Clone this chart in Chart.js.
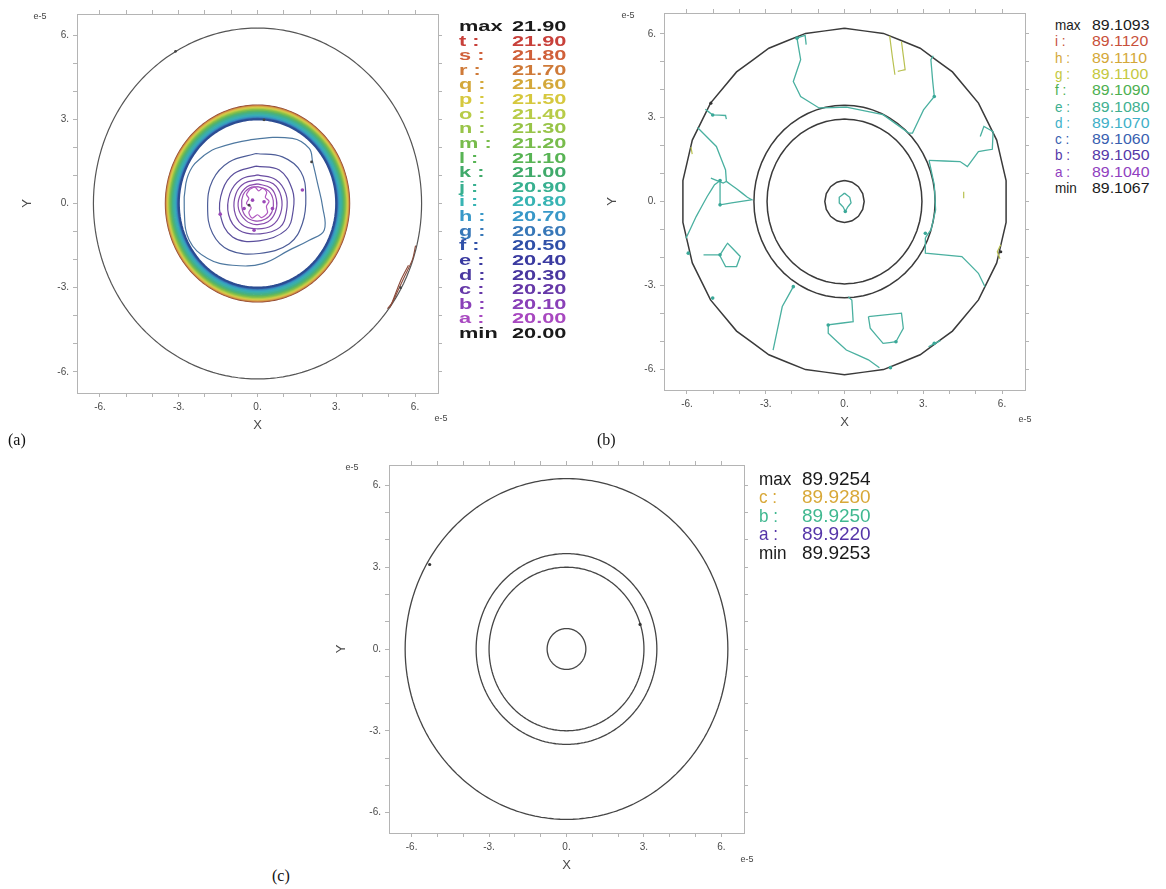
<!DOCTYPE html>
<html><head><meta charset="utf-8">
<script src="https://cdn.jsdelivr.net/npm/chart.js@4.4.1/dist/chart.umd.min.js"></script>
<style>
body{margin:0;background:#fff;}
#page{position:relative;width:1166px;height:889px;overflow:hidden;background:#fff;font-family:'Liberation Sans',Arial,sans-serif;}
.cv{position:absolute;}
.t{position:absolute;white-space:nowrap;line-height:1;transform-origin:0 50%;}
.lbl{position:absolute;font-family:'Liberation Serif','Times New Roman',serif;font-size:16px;color:#111;line-height:1;}
</style></head>
<body><div id="page"></div>
<script>
// ---------------- data ----------------
const tickValues = [-6,-5,-4,-3,-2,-1,0,1,2,3,4,5,6];
const tickLabelValues = [-6,-3,0,3,6];

// panel (a)
const legendA_keys = ['max','t :','s :','r :','q :','p :','o :','n :','m :','l :','k :','j :','i :','h :','g :','f :','e :','d :','c :','b :','a :','min'];
const legendA_values = ['21.90','21.90','21.80','21.70','21.60','21.50','21.40','21.30','21.20','21.10','21.00','20.90','20.80','20.70','20.60','20.50','20.40','20.30','20.20','20.10','20.00','20.00'];
const ringsA = [6.25];
const bandA_levels = ['f','g','h','i','j','k','l','m','n','o','p','q','r','s','t'];
const bandA_radii = [3.00,3.03,3.07,3.12,3.17,3.22,3.27,3.31,3.34,3.37,3.40,3.43,3.45,3.47,3.49];
const contourA_outer = [[-2.03,1.72],[-1.59,1.96],[-0.32,2.26],[1.33,2.32],[1.97,1.96],[2.10,1.48],[2.29,0.71],[2.48,-0.12],[2.54,-0.95],[1.97,-1.31],[1.21,-1.66],[0.19,-2.14],[-0.95,-2.20],[-1.90,-1.96],[-2.60,-1.31],[-2.79,-0.24],[-2.73,0.71],[-2.48,1.31],[-2.03,1.72]];
const contourA_e = [[-0.06,1.78],[0.95,1.66],[1.65,1.13],[1.84,0.24],[1.71,-0.71],[1.21,-1.43],[0.06,-1.78],[-1.08,-1.66],[-1.71,-1.07],[-1.90,-0.12],[-1.71,0.83],[-1.08,1.48],[-0.06,1.78]];
const contourA_d = [[-0.06,1.33],[0.83,1.19],[1.33,0.48],[1.36,-0.24],[1.08,-0.95],[0.06,-1.33],[-0.95,-1.19],[-1.42,-0.38],[-1.33,0.48],[-0.89,1.07],[-0.06,1.33]];
const contourA_c = [[0,1.02],[0.7,0.85],[1.08,0.35],[1.1,-0.3],[0.85,-0.85],[0.1,-1.08],[-0.7,-0.95],[-1.1,-0.4],[-1.05,0.35],[-0.65,0.85],[0,1.02]];
const contourA_b = [[0.05,0.85],[0.6,0.7],[0.9,0.25],[0.88,-0.35],[0.55,-0.78],[-0.05,-0.9],[-0.6,-0.75],[-0.88,-0.25],[-0.82,0.35],[-0.5,0.72],[0.05,0.85]];
const contourA_b2 = [[0,0.7],[0.5,0.55],[0.72,0.15],[0.68,-0.3],[0.4,-0.65],[-0.05,-0.75],[-0.45,-0.6],[-0.72,-0.2],[-0.68,0.25],[-0.4,0.6],[0,0.7]];
const contourA_b3 = [[0,0.6],[0.42,0.45],[0.6,0.1],[0.55,-0.3],[0.3,-0.55],[-0.1,-0.62],[-0.45,-0.45],[-0.6,-0.1],[-0.55,0.3],[-0.3,0.55],[0,0.6]];
const contourA_a = [[-0.3,0.5],[-0.1,0.58],[0.05,0.45],[0.2,0.55],[0.35,0.4],[0.3,0.22],[0.44,0.08],[0.34,-0.1],[0.38,-0.33],[0.15,-0.5],[0.0,-0.4],[-0.2,-0.52],[-0.33,-0.33],[-0.24,-0.15],[-0.42,0.0],[-0.33,0.18],[-0.42,0.32],[-0.3,0.5]];
const edgeA_1 = [[6.02,-1.5],[5.9,-2.0],[5.6,-2.6],[5.35,-3.1],[5.15,-3.5],[4.95,-3.75]];
const edgeA_2 = [[5.75,-2.2],[5.45,-2.75],[5.2,-3.35],[5.05,-3.7]];
const marksA_purple = [[-0.19,0.12],[0.25,0.06],[-0.51,-0.18],[0.57,-0.18],[-0.13,-0.95],[1.71,0.48],[-1.42,-0.38]];
const marksA_dark = [[-0.32,-0.06],[-3.12,5.42],[0.25,2.98],[2.06,1.48],[5.45,-3.0]];

// panel (b)
const legendB_keys = ['max','i :','h :','g :','f :','e :','d :','c :','b :','a :','min'];
const legendB_values = ['89.1093','89.1120','89.1110','89.1100','89.1090','89.1080','89.1070','89.1060','89.1050','89.1040','89.1067'];
const ringsB = [6.2, 3.45, 2.95, 0.75];
const tealB = [
  [[-1.81,5.85],[-1.67,5.08],[-1.95,4.30],[-1.67,3.76],[-0.97,3.35],[0.07,3.38],[1.47,3.11],[2.45,2.45],[2.59,2.45],[3.01,3.28],[3.42,3.76],[3.36,4.30],[3.29,5.08],[3.38,5.22]],
  [[-1.81,5.85],[-1.5,5.95],[-1.46,5.62]],
  [[3.22,1.47],[3.42,0.6],[3.47,-0.3],[3.3,-1.0],[3.08,-1.3]],
  [[3.22,1.47],[4.40,1.43],[4.68,1.25],[5.10,1.79],[5.63,1.87],[5.66,2.5],[5.31,2.69],[5.17,2.33]],
  [[3.08,-1.3],[3.08,-1.85],[4.47,-1.97],[5.10,-2.57],[5.35,-3.05]],
  [[-5.6,2.65],[-4.88,1.97],[-4.53,1.13],[-4.50,0.72],[-4.62,0.66],[-5.09,0.84]],
  [[-4.5,0.72],[-4.1,0.45],[-3.7,0.15],[-3.5,0.05]],
  [[-4.74,0.75],[-4.74,-0.12],[-4.3,-0.05],[-3.55,0.06]],
  [[-6.04,-1.32],[-5.65,-0.54],[-5.23,0.18],[-4.95,0.60],[-4.74,0.75]],
  [[-5.37,-1.91],[-4.74,-1.91],[-4.46,-1.49],[-3.97,-1.97],[-4.11,-2.33],[-4.53,-2.33],[-4.74,-1.95]],
  [[-5.3,3.3],[-5.02,3.10],[-4.53,3.08],[-4.5,2.95]],
  [[-1.95,-3.05],[-2.37,-3.76],[-2.72,-5.32]],
  [[0.145,-3.41],[0.28,-3.53],[0.33,-4.30],[-0.62,-4.42],[-0.62,-4.72],[0.07,-5.32],[0.91,-5.67],[1.33,-5.95]],
  [[0.91,-4.12],[2.17,-4.00],[2.24,-4.54],[1.96,-5.02],[1.47,-5.08],[0.98,-4.54],[0.91,-4.12]],
  [[3.2,-5.2],[3.65,-4.98]],
  [[0,0.3],[0.2,0.15],[0.25,-0.05],[0.12,-0.2],[0.03,-0.36],[-0.05,-0.2],[-0.2,-0.05],[-0.2,0.15],[0,0.3]]
];
const yellowB = [
  [[1.72,5.93],[1.82,5.20],[1.92,4.54]],
  [[2.17,5.73],[2.31,4.72],[2.03,4.66]],
  [[4.54,0.35],[4.54,0.12]],
  [[-5.85,1.95],[-5.8,1.7]],
  [[5.95,-1.55],[5.82,-1.8],[5.92,-2.05]]
];
const marksB_teal = [[-1.81,5.85],[3.42,3.76],[-4.74,0.75],[-4.74,-0.12],[-4.74,-1.91],[-5.02,3.10],[-5.95,-1.85],[-5.02,-3.46],[-1.95,-3.05],[-0.62,-4.42],[1.96,-5.02],[3.42,-5.08],[1.75,-5.95],[0.03,-0.36],[3.08,-1.14]];
const marksB_dark = [[-5.09,3.52],[5.95,-1.8]];

// panel (c)
const legendC_keys = ['max','c :','b :','a :','min'];
const legendC_values = ['89.9254','89.9280','89.9250','89.9220','89.9253'];
const ringsC = [6.25, 3.5, 3.0, 0.75];
const marksC_dark = [[-5.3,3.1],[2.85,0.9]];

// ---------------- styles ----------------
const FONT = "'Liberation Sans', Arial, sans-serif";
const legendA_colors = ['#1a1a1a','#c8403a','#d0603a','#cf7a38','#d4a83a','#d6c83e','#b8cc48','#98c448','#78bc4c','#58b454','#40aa6a','#38b090','#38b4b4','#3898c8','#3878b8','#3050a8','#3a3aa0','#4a38a0','#6638a8','#8a40b8','#a848c0','#1a1a1a'];
const bandA_colors = ['#2c4c92','#3570b4','#3894c0','#38aab8','#3cb0a4','#44b088','#58b468','#78bc50','#98c448','#b8cc48','#d6c84a','#d8b048','#d09046','#b86a3e','#8e4a34'];
const legendB_colors = ['#1a1a1a','#c8503a','#d4a838','#c4c840','#4caf50','#40b090','#40b0c8','#3860b0','#5538a8','#9040c0','#1a1a1a'];
const legendC_colors = ['#1a1a1a','#d8a838','#40b890','#5535a8','#1a1a1a'];

const page = document.getElementById('page');
const toXY = a => a.map(p => ({x:p[0], y:p[1]}));
function ringPoints(r, n){ const pts=[]; for(let i=0;i<=n;i++){const t=Math.PI/2+2*Math.PI*i/n; pts.push({x:r*Math.cos(t), y:r*Math.sin(t)});} return pts; }
// a tiny non-zero tension keeps Chart.js off its x-monotonic "fast path"
function lineDs(data, color, width, tension){ return {data, showLine:true, borderColor:color, borderWidth:width, pointRadius:0, tension:tension||0.0001, fill:false}; }
function ptDs(arr, color, r){ return {data:toXY(arr), showLine:false, pointRadius:r, pointBackgroundColor:color, pointBorderWidth:0}; }

function addText(txt, x, yc, size, color, weight, sx){
  const d=document.createElement('div'); d.className='t'; d.textContent=txt;
  d.style.left=x+'px'; d.style.top=yc+'px'; d.style.fontSize=size+'px'; d.style.color=color; d.style.fontWeight=weight;
  d.style.transform='translateY(-50%) scaleX('+sx+')';
  page.appendChild(d);
}
function addLabel(txt, x, yc){ const d=document.createElement('div'); d.className='lbl'; d.textContent=txt; d.style.left=x+'px'; d.style.top=(yc-8)+'px'; page.appendChild(d); }
function addE5(x, yc){ const d=document.createElement('div'); d.className='t'; d.textContent='e-5'; d.style.left=x+'px'; d.style.top=yc+'px'; d.style.fontSize='9px'; d.style.color='#444'; d.style.transform='translate(-50%,-50%)'; page.appendChild(d); }

function axes(yW, yTitlePad){
  const common = {
    type:'linear',
    afterBuildTicks: s => { s.ticks = tickValues.map(v => ({value:v})); },
    grid:{drawOnChartArea:false, drawTicks:true, tickLength:4, color:'#b4b4b4', tickColor:'#b4b4b4'},
    border:{display:true, color:'#b4b4b4', width:1}
  };
  const lab = {autoSkip:false, maxRotation:0, minRotation:0, color:'#4a4a4a', font:{family:FONT, size:10},
    callback: v => tickLabelValues.includes(v) ? v + '.' : ''};
  return {
    x: Object.assign({}, common, {position:'bottom', min:-6.875, max:6.875, afterFit: s => { s.height = 40; },
      ticks:Object.assign({padding:4}, lab),
      title:{display:true, text:'X', color:'#4a4a4a', font:{family:FONT, size:13}, padding:{top:0,bottom:0}}}),
    y: Object.assign({}, common, {position:'left', min:-6.75, max:6.75, afterFit: s => { s.width = yW; },
      ticks:Object.assign({padding:4}, lab),
      title:{display:true, text:'Y', color:'#4a4a4a', font:{family:FONT, size:13}, padding:{top:yTitlePad,bottom:0}}}),
    x2: Object.assign({}, common, {position:'top', min:-6.875, max:6.875, afterFit: s => { s.height = 0; }, ticks:{display:false}}),
    y2: Object.assign({}, common, {position:'right', min:-6.75, max:6.75, afterFit: s => { s.width = 0; }, ticks:{display:false}})
  };
}

function makeChart(left, top, w, h, pad, yW, yTitlePad, datasets){
  const c=document.createElement('canvas'); c.className='cv'; c.width=w; c.height=h;
  c.style.left=left+'px'; c.style.top=top+'px'; c.style.width=w+'px'; c.style.height=h+'px';
  page.appendChild(c);
  return new Chart(c, {type:'scatter', data:{datasets},
    options:{responsive:false, animation:false, devicePixelRatio:1,
      layout:{padding:pad},
      plugins:{legend:{display:false}, tooltip:{enabled:false}},
      scales:axes(yW, yTitlePad)}});
}

// ---- panel (a)
const dsA = [];
dsA.push(ptDs(marksA_purple, '#9a48b8', 1.8));
dsA.push(ptDs(marksA_dark, '#444', 1.4));
dsA.push(lineDs(toXY(contourA_a), '#b058c0', 1.2, 0.3));
dsA.push(lineDs(toXY(contourA_b3), '#9a50b4', 1.2, 0.4));
dsA.push(lineDs(toXY(contourA_b2), '#8a4cae', 1.2, 0.4));
dsA.push(lineDs(toXY(contourA_b), '#7a4ca8', 1.2, 0.4));
dsA.push(lineDs(toXY(contourA_c), '#6a4ca2', 1.2, 0.4));
dsA.push(lineDs(toXY(contourA_d), '#5b4f9c', 1.2, 0.4));
dsA.push(lineDs(toXY(contourA_e), '#4d5d98', 1.2, 0.4));
dsA.push(lineDs(toXY(contourA_outer), '#4e78a0', 1.2, 0.4));
dsA.push(lineDs(toXY(edgeA_1), '#8a4a3a', 1.1, 0.3));
dsA.push(lineDs(toXY(edgeA_2), '#8a4a3a', 1.1, 0.3));
bandA_radii.forEach((r,i) => dsA.push(lineDs(ringPoints(r, 120), bandA_colors[i], 2.2)));
ringsA.forEach(r => dsA.push(lineDs(ringPoints(r, 160), '#555', 1.2)));
makeChart(0, 0, 460, 445, {left:0, top:14, right:22, bottom:12}, 77, 20, dsA);

// ---- panel (b)
const dsB = [];
dsB.push(ptDs(marksB_teal, '#3aa898', 1.8));
dsB.push(ptDs(marksB_dark, '#333', 1.6));
tealB.forEach(l => dsB.push(lineDs(toXY(l), '#4ab0a0', 1.3)));
yellowB.forEach(l => dsB.push(lineDs(toXY(l), '#b8c050', 1.2)));
const segB = [26, 60, 52, 16];
ringsB.forEach((r,i) => dsB.push(lineDs(ringPoints(r, segB[i]), '#3a3a3a', 1.5)));
makeChart(590, 0, 460, 445, {left:0, top:13, right:25, bottom:15}, 74, 15, dsB);

// ---- panel (c)
const dsC = [];
dsC.push(ptDs(marksC_dark, '#333', 1.6));
ringsC.forEach(r => dsC.push(lineDs(ringPoints(r, 160), '#454545', 1.3)));
makeChart(330, 445, 440, 444, {left:0, top:20, right:26, bottom:16}, 59, 4, dsC);

// ---- legends
legendA_keys.forEach((k,i) => {
  const y = 25 + i*14.62;
  addText(k, 459, y, 15, legendA_colors[i], 'bold', 1.45);
  addText(legendA_values[i], 512, y, 15, legendA_colors[i], 'bold', 1.45);
});
legendB_keys.forEach((k,i) => {
  const y = 24 + i*16.3;
  addText(k, 1055, y, 15, legendB_colors[i], 'normal', 0.9);
  addText(legendB_values[i], 1092, y, 15, legendB_colors[i], 'normal', 1.06);
});
legendC_keys.forEach((k,i) => {
  const y = 478 + i*18.4;
  addText(k, 759, y, 19, legendC_colors[i], 'normal', 0.9);
  addText(legendC_values[i], 802, y, 19, legendC_colors[i], 'normal', 1.0);
});

// ---- panel labels and exponent marks
addLabel('(a)', 8, 440); addLabel('(b)', 597, 440); addLabel('(c)', 272, 876);
addE5(40, 16); addE5(441, 418);
addE5(628, 15); addE5(1025, 419);
addE5(352, 467); addE5(747, 859);
</script></body></html>
